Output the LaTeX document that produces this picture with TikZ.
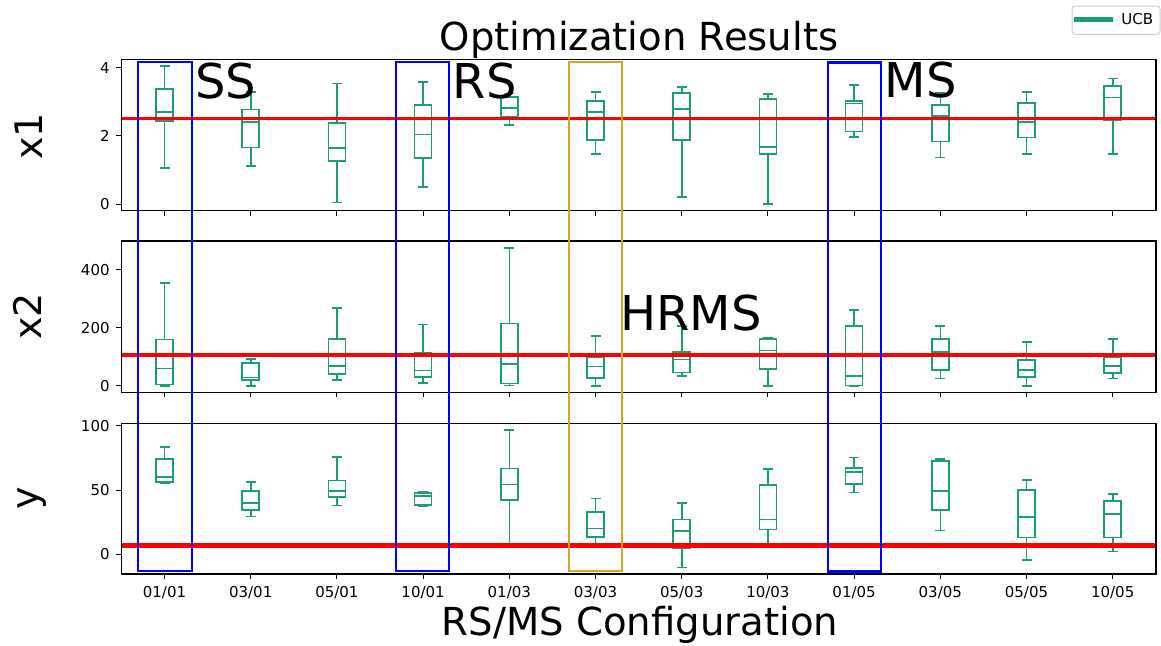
\documentclass[tikz,border=0pt]{standalone}
\usepackage{fontspec}
\setmainfont{DejaVu Sans}
\definecolor{boxgreen}{RGB}{27,158,119}
\definecolor{hlgold}{RGB}{218,165,32}
\definecolor{legedge}{RGB}{204,204,204}
\newcommand{\bxp}[6]{%
  \draw[boxst] (#1-8.5,#3) rectangle (#1+8.5,#5);
  \draw[boxst] (#1-8.5,#4) -- (#1+8.5,#4);
  \draw[boxst] (#1,#5) -- (#1,#6);
  \draw[boxst] (#1-5,#6) -- (#1+5,#6);
  \draw[boxst] (#1,#3) -- (#1,#2);
  \draw[boxst] (#1-5,#2) -- (#1+5,#2);
}
\begin{document}
\begin{tikzpicture}[x=0.5pt,y=-0.5pt,
  boxst/.style={draw=boxgreen,line width=0.8pt},
  frame/.style={draw=black,line width=0.55pt},
  tickst/.style={draw=black,line width=0.5pt},
  ticklab/.style={font=\fontsize{7.5}{9}\selectfont,inner sep=0pt},
  axlab/.style={font=\fontsize{19}{22}\selectfont,inner sep=0pt},
  bigtxt/.style={font=\fontsize{24}{28}\selectfont,inner sep=0pt,anchor=base west},
  refline/.style={draw=red},
  hlbox/.style={line width=1.2pt}]
\useasboundingbox (0,0) rectangle (1161,645);
\fill[white] (0,0) rectangle (1161,645);
\def\L{121.4}\def\R{1156}
% panel frames
\coordinate (p1a) at (\L,59.3);  \coordinate (p1b) at (\R,210.7);
\coordinate (p2a) at (\L,241);   \coordinate (p2b) at (\R,392.3);
\coordinate (p3a) at (\L,423.3); \coordinate (p3b) at (\R,574);
% boxes: x, low, q1, med, q3, high (pixel y)
% top panel x1
\bxp{164.5}{167.7}{121}{111.7}{89}{65.7}
\bxp{250.7}{166}{147.3}{121.7}{109.3}{91.7}
\bxp{336.9}{202.3}{160.7}{148}{122.7}{83.3}
\bxp{423.1}{186.7}{158}{134.3}{104.7}{81.7}
\bxp{509.3}{124.7}{117}{107.7}{97}{93.3}
\bxp{595.5}{154}{139.7}{111.7}{100.7}{92}
\bxp{681.7}{196.7}{139.7}{108.7}{93}{86.7}
\bxp{767.9}{204}{153.7}{147}{98.7}{93.7}
\bxp{854.1}{137}{131.3}{103.3}{100.7}{85}
\bxp{940.3}{157.3}{141.3}{115.7}{105}{92.7}
\bxp{1026.5}{154}{137.3}{121.7}{103}{92}
\bxp{1112.7}{154}{120.3}{97.3}{85.7}{78.3}
% middle panel x2
\bxp{164.5}{385.7}{384.3}{368.3}{339.3}{282.7}
\bxp{250.7}{385.7}{380}{377.3}{363}{359}
\bxp{336.9}{379.7}{374}{365.7}{338.7}{308}
\bxp{423.1}{382.7}{376.7}{370.3}{352.7}{324.3}
\bxp{509.3}{385.3}{383.3}{363.7}{323.3}{247.7}
\bxp{595.5}{385.7}{378}{366.3}{357.3}{335.7}
\bxp{681.7}{375.7}{372.3}{359.3}{351.7}{325.7}
\bxp{767.9}{385.7}{369}{350.3}{339}{337.3}
\bxp{854.1}{385.7}{385.3}{375.7}{326}{309.7}
\bxp{940.3}{378.3}{369.7}{352}{338.7}{326}
\bxp{1026.5}{385.7}{376.7}{369.7}{359.7}{341.7}
\bxp{1112.7}{378.3}{372.7}{366}{356.7}{338.7}
% bottom panel y
\bxp{164.5}{482.7}{482}{476.7}{459}{447}
\bxp{250.7}{516.3}{509.7}{502.7}{490.7}{482}
\bxp{336.9}{505.3}{496.7}{491}{480.3}{457}
\bxp{423.1}{506}{505}{496}{493}{492}
\bxp{509.3}{545}{500}{484.3}{468.3}{429.7}
\bxp{595.5}{545}{536.7}{528.3}{511.7}{498.3}
\bxp{681.7}{567.3}{547.7}{530.7}{519.3}{503}
\bxp{767.9}{545}{529.3}{519.3}{485}{468.7}
\bxp{854.1}{492.3}{483.7}{471.7}{468}{457.3}
\bxp{940.3}{530.3}{510}{490.7}{461}{459}
\bxp{1026.5}{559.7}{537.3}{516.7}{490}{480}
\bxp{1112.7}{551.3}{537.3}{513.7}{500.7}{494}
% reference lines
\draw[refline,line width=1.5pt] (\L,118) -- (\R,118);
\draw[refline,line width=1.8pt] (\L,355) -- (\R,355);
\draw[refline,line width=2.3pt] (\L,545.7) -- (\R,545.7);
% frames
\draw[frame] (p1a) rectangle (p1b);
\draw[frame] (p2a) rectangle (p2b);
\draw[frame] (p3a) rectangle (p3b);
% x ticks
\foreach \x in {164.5,250.7,336.9,423.1,509.3,595.5,681.7,767.9,854.1,940.3,1026.5,1112.7}{
  \draw[tickst] (\x,210.7) -- (\x,215.7);
  \draw[tickst] (\x,392.3) -- (\x,397.3);
  \draw[tickst] (\x,574) -- (\x,579);
}
% y ticks
\foreach \y/\t in {204/0,135.9/2,67.7/4, 385.7/0,327.7/200,269.7/400, 554.3/0,490/50,425.7/100}{
  \draw[tickst] (\L,\y) -- (\L-5,\y);
  \node[ticklab,anchor=base east] (yt\t) at (110,\y+5.4) {\t};
}
% x tick labels
\foreach \x/\t [count=\i] in {164.5/01\slash 01,250.7/03\slash 01,336.9/05\slash 01,423.1/10\slash 01,509.3/01\slash 03,595.5/03\slash 03,681.7/05\slash 03,767.9/10\slash 03,854.1/01\slash 05,940.3/03\slash 05,1026.5/05\slash 05,1112.7/10\slash 05}{
  \node[ticklab,anchor=base] (xt\i) at (\x,597.5) {\t};
}
% axis labels
\node[axlab,anchor=base,rotate=90] (lx1) at (42,136.5) {x1};
\node[axlab,anchor=base,rotate=90] (lx2) at (41.7,316.5) {x2};
\node[axlab,anchor=base,rotate=90] (ly) at (39,498.5) {y};
\node[font=\fontsize{19.3}{23}\selectfont,inner sep=0pt,anchor=base] (title) at (639,50) {Optimization Results};
\node[font=\fontsize{19.3}{23}\selectfont,inner sep=0pt,anchor=base] (xlab) at (640,635) {RS/MS Configuration};
% highlight rectangles
\draw[hlbox,blue] (138.2,61.7) rectangle (191.8,570.7);
\draw[hlbox,blue] (396,61.7) rectangle (449,570.7);
\draw[hlbox,hlgold] (569,61.7) rectangle (621.8,570.7);
\draw[hlbox,blue] (828.2,62.3) rectangle (881,571.3);
% annotations
\node[bigtxt] (ss) at (195,98) {SS};
\node[bigtxt] (rs) at (452.5,98) {RS};
\node[bigtxt] (ms) at (884.5,97) {MS};
\node[bigtxt] (hrms) at (620,330) {HRMS};
% legend
\draw[legedge,fill=white,line width=0.5pt,rounded corners=1.5pt] (1072,6) rectangle (1160,34.3);
\draw[boxgreen,line width=2.5pt] (1074,19) -- (1112.7,19);
\node[ticklab,anchor=base west] (leg) at (1121,24.5) {UCB};
\end{tikzpicture}
\end{document}
